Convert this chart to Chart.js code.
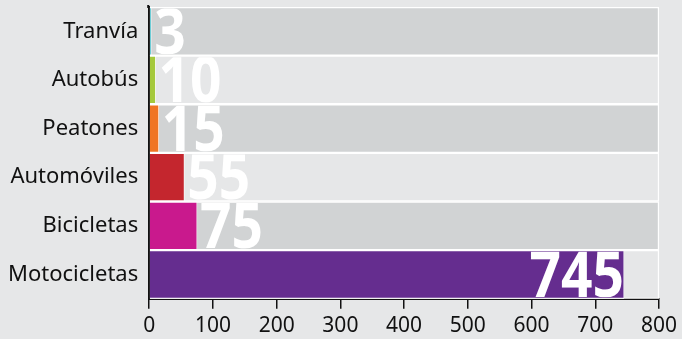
<!DOCTYPE html>
<html>
<head>
<meta charset="utf-8">
<script src="https://cdn.jsdelivr.net/npm/chart.js@4.4.1/dist/chart.umd.min.js"></script>
<style>
  html, body { margin: 0; padding: 0; background: #e6e7e8; }
  #wrap { width: 682px; height: 339px; }
</style>
</head>
<body>
<div id="wrap"><canvas id="modosChart"></canvas></div>
<script>
/* datos */
const categorias = ["Tranvía", "Autobús", "Peatones", "Automóviles", "Bicicletas", "Motocicletas"];
const valores = [3, 10, 15, 55, 75, 745];
const colores = ["#5bc5d0", "#a5c93b", "#f07523", "#c4262e", "#c9198d", "#652d8f"];
const fondo = [800, 800, 800, 800, 800, 800];
const coloresFondo = ["#d1d3d4", "#e6e7e8", "#d1d3d4", "#e6e7e8", "#d1d3d4", "#e6e7e8"];
const marcasX = [0, 100, 200, 300, 400, 500, 600, 700, 800];

/* numeros grandes en blanco, recortados a la franja de cada barra */
const etiquetas = {
    id: "etiquetas",
    afterDatasetsDraw(chart) {
        const ctx = chart.ctx;
        const filas = chart.getDatasetMeta(0).data;
        const barras = chart.getDatasetMeta(1).data;
        ctx.save();
        ctx.font = 'bold 64px "Open Sans", sans-serif';
        ctx.fillStyle = "#ffffff";
        ctx.textBaseline = "middle";
        barras.forEach((barra, i) => {
            const fila = filas[i];
            const alto = fila.height;
            const txt = String(valores[i]);
            const ancho = ctx.measureText(txt).width * 0.86;
            const dentro = (barra.x - barra.base) > ancho + 10;
            ctx.save();
            ctx.beginPath();
            ctx.rect(fila.base, fila.y - alto / 2 + 1.5, fila.x - fila.base, alto - 3);
            ctx.clip();
            ctx.translate(dentro ? barra.x - ancho : barra.x + 3, fila.y + 4);
            ctx.scale(0.86, 1);
            ctx.textAlign = "left";
            ctx.fillText(txt, 0, 0);
            ctx.restore();
        });
        ctx.restore();
    }
};

/* la linea del eje vertical sobresale un poco por arriba */
const ejeArriba = {
    id: "ejeArriba",
    afterDraw(chart) {
        const {ctx, chartArea} = chart;
        ctx.save();
        ctx.strokeStyle = "#111111";
        ctx.lineWidth = 2;
        ctx.beginPath();
        ctx.moveTo(chartArea.left - 1, chartArea.top - 2);
        ctx.lineTo(chartArea.left - 1, chartArea.top + 1);
        ctx.stroke();
        ctx.restore();
    }
};

const ctx = document.getElementById("modosChart");

new Chart(ctx, {
    type: "bar",
    data: {
        labels: categorias,
        datasets: [{
            data: fondo,
            backgroundColor: coloresFondo,
            borderColor: "#ffffff",
            borderWidth: 1.5,
            borderSkipped: false,
            barPercentage: 1,
            categoryPercentage: 1,
            order: 2
        }, {
            data: valores,
            backgroundColor: colores,
            borderColor: "#ffffff",
            borderWidth: {top: 1.5, bottom: 1.5, right: 0.8},
            barPercentage: 1,
            categoryPercentage: 1,
            order: 1
        }]
    },
    options: {
        indexAxis: "y",
        responsive: true,
        maintainAspectRatio: false,
        animation: false,
        layout: { padding: {top: 7, right: 20, bottom: -5, left: 5} },
        plugins: {
            legend: { display: false },
            tooltip: { enabled: false }
        },
        scales: {
            y: {
                stacked: true,
                afterFit: (axis) => { axis.paddingTop = 0; axis.paddingBottom = 0; },
                grid: { display: false },
                border: { display: true, color: "#111111", width: 2 },
                ticks: {
                    color: "#111111",
                    padding: 3,
                    font: { family: "'Noto Sans', sans-serif", size: 22 }
                }
            },
            x: {
                min: 0,
                max: 800,
                afterBuildTicks: (axis) => { axis.ticks = marcasX.map(v => ({value: v})); },
                grid: {
                    drawOnChartArea: false,
                    drawTicks: true,
                    tickLength: 10,
                    color: "#111111",
                    lineWidth: 1.5
                },
                border: { display: true, color: "#111111", width: 2 },
                ticks: {
                    color: "#111111",
                    padding: 5,
                    maxRotation: 0,
                    font: { family: "'Noto Sans', sans-serif", size: 21 }
                }
            }
        }
    },
    plugins: [etiquetas, ejeArriba]
});
</script>
</body>
</html>
